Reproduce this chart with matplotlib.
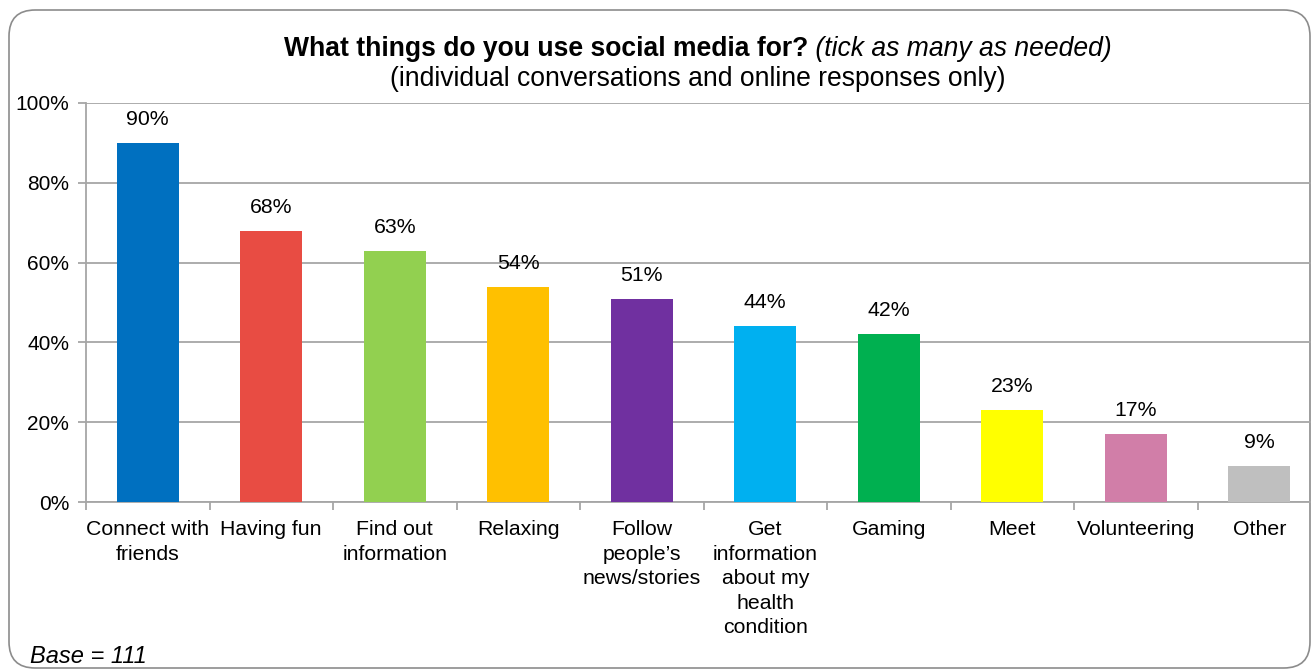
import matplotlib.pyplot as plt
from matplotlib.patches import FancyBboxPatch

plt.rcParams['font.family'] = ['Liberation Sans', 'DejaVu Sans']

# Survey results
categories = ['Connect with\nfriends', 'Having fun', 'Find out\ninformation', 'Relaxing',
              'Follow\npeople\u2019s\nnews/stories', 'Get\ninformation\nabout my\nhealth\ncondition',
              'Gaming', 'Meet', 'Volunteering', 'Other']
values = [90, 68, 63, 54, 51, 44, 42, 23, 17, 9]
colors = ['#0070C0', '#E84C43', '#92D050', '#FFC000', '#7030A0',
          '#00B0F0', '#00B050', '#FFFF00', '#D17EA8', '#BFBFBF']
yticks = [0, 20, 40, 60, 80, 100]

W, H = 1311, 670
fig = plt.figure(figsize=(W / 100, H / 100), dpi=100)

# rounded frame around the whole chart
frame = FancyBboxPatch((9 / W, 2 / H), 1301 / W, 658 / H,
                       boxstyle='round,pad=0,rounding_size=0.02',
                       transform=fig.transFigure, facecolor='none',
                       edgecolor='#8C8C8C', linewidth=1.2, mutation_aspect=W / H,
                       zorder=-1)
fig.patches.append(frame)

# axes area runs slightly past the right edge
ax = fig.add_axes([86 / W, (H - 502) / H, 1235 / W, 399 / H])
ax.set_facecolor('none')
x = range(len(values))
ax.bar(x, values, width=0.5, color=colors, zorder=3)
ax.set_xlim(-0.5, len(values) - 0.5)
ax.set_ylim(0, 100)

fs = 15.3
ax.set_yticks(yticks)
ax.set_yticklabels([f'{v}%' for v in yticks], fontsize=15)
ax.yaxis.grid(True, color='#A6A6A6', linewidth=1.3, zorder=0)
ax.set_axisbelow(True)

ax.set_xticks([i + 0.5 for i in range(-1, len(values))], minor=False)
ax.set_xticklabels([])
ax.set_xticks(list(x), minor=True)
ax.set_xticklabels(categories, minor=True, fontsize=fs, linespacing=1.37, va='top')
ax.tick_params(axis='x', which='minor', length=0, pad=13)
ax.tick_params(axis='x', which='major', length=6, color='#A6A6A6', width=1.3)
ax.tick_params(axis='y', length=6, color='#A6A6A6', width=1.3, pad=6)

for s in ['top', 'right']:
    ax.spines[s].set_visible(False)
for s in ['left', 'bottom']:
    ax.spines[s].set_color('#A6A6A6')
    ax.spines[s].set_linewidth(1.3)

for i, v in enumerate(values):
    ax.annotate(f'{v}%', (i, v), xytext=(0, 14), textcoords='offset pixels',
                ha='center', va='bottom', fontsize=fs)

# title: bold question with italic note, subtitle below
t1 = fig.text(0, 0, 'What things do you use social media for?', fontsize=19.1,
              fontweight='bold', ha='left', va='baseline')
t2 = fig.text(0, 0, ' (tick as many as needed)', fontsize=19.1, style='italic',
              ha='left', va='baseline')
fig.canvas.draw()
r = fig.canvas.get_renderer()
w1 = t1.get_window_extent(r).width
w2 = t2.get_window_extent(r).width
x0 = 698 - (w1 + w2) / 2
yb = (H - 56) / H
t1.set_position((x0 / W, yb))
t2.set_position(((x0 + w1) / W, yb))
fig.text(698 / W, (H - 86) / H, '(individual conversations and online responses only)',
         fontsize=19.1, ha='center', va='baseline')

fig.text(30 / W, (H - 663) / H, 'Base = 111', fontsize=17, style='italic',
         ha='left', va='baseline')

fig.savefig('out.png', dpi=100)
